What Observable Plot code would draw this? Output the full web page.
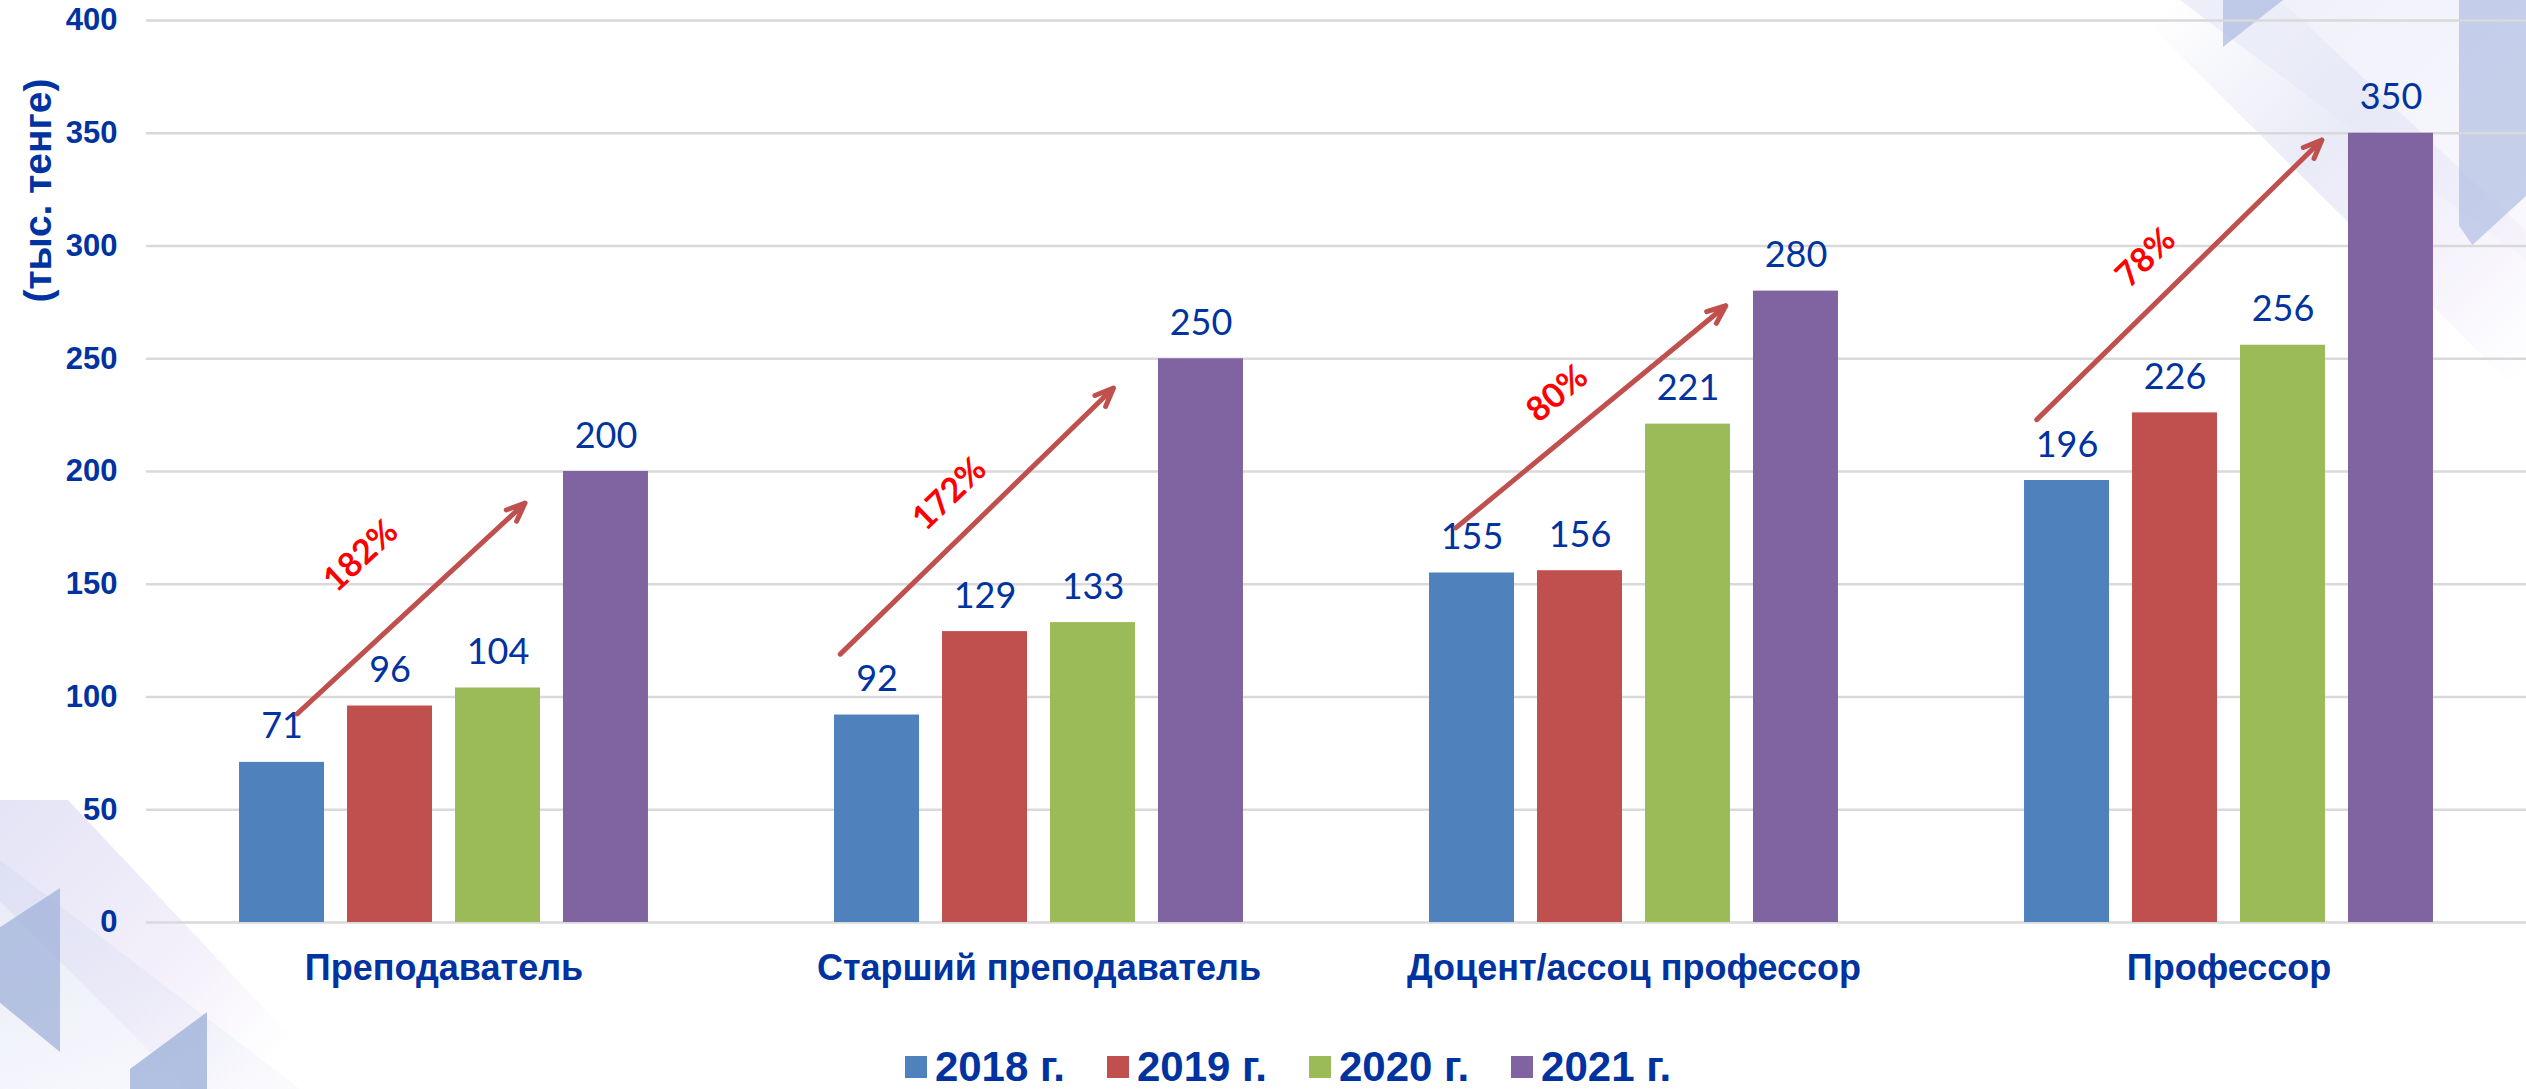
<!DOCTYPE html>
<html>
<head>
<meta charset="utf-8">
<script src="https://cdn.jsdelivr.net/npm/d3@7"></script>
<script src="https://cdn.jsdelivr.net/npm/@observablehq/plot@0.6"></script>
<style>
  html, body { margin: 0; padding: 0; background: #ffffff; }
  #wrap { position: relative; width: 2526px; height: 1089px; overflow: hidden; background: #ffffff; }
  #chart { position: relative; z-index: 1; }
  #legend {
    position: relative; z-index: 1;
    display: flex; justify-content: center; align-items: center;
    height: 59px; padding-left: 50px; padding-top: 14px; box-sizing: border-box;
    font-family: "Liberation Sans", Arial, sans-serif; font-weight: bold;
    font-size: 42px; line-height: 42px; color: #0033a0; gap: 42px;
  }
  .item { display: flex; align-items: center; gap: 8px; }
  .sw { width: 22px; height: 22px; display: inline-block; }
  /* decorative slide background */
  .deco { position: absolute; z-index: 0; pointer-events: none; }
  .bl-band { left: 0; top: 800px; width: 340px; height: 289px;
    background: linear-gradient(135deg, rgba(205,205,238,0.55), rgba(232,222,245,0.45) 55%, rgba(255,255,255,0) 85%);
    clip-path: polygon(0 0, 20% 0, 100% 100%, 55% 100%, 0 35%); }
  .bl-band2 { left: 0; top: 860px; width: 300px; height: 229px;
    background: linear-gradient(160deg, rgba(215,220,242,0.6), rgba(240,240,250,0.3));
    clip-path: polygon(0 0, 100% 100%, 0 100%); }
  .bl-p1 { left: 0; top: 888px; width: 60px; height: 164px; background: rgba(160,178,218,0.75);
    clip-path: polygon(0 24%, 100% 0, 100% 100%, 0 70%); }
  .bl-p2 { left: 130px; top: 1012px; width: 77px; height: 77px; background: rgba(160,178,218,0.8);
    clip-path: polygon(0 74%, 100% 0, 100% 100%, 0 100%); }
  .tr-band { left: 2080px; top: 0; width: 446px; height: 420px;
    background: linear-gradient(135deg, rgba(255,255,255,0) 10%, rgba(215,218,240,0.55) 45%, rgba(232,226,246,0.45) 70%, rgba(255,255,255,0) 95%);
    clip-path: polygon(10% 0, 45% 0, 100% 55%, 100% 95%); }
  .tr-band2 { left: 2180px; top: 0; width: 346px; height: 260px;
    background: linear-gradient(135deg, rgba(225,228,245,0.6), rgba(240,236,250,0.35));
    clip-path: polygon(0 0, 100% 0, 100% 100%); }
  .tr-p1 { left: 2223px; top: 0; width: 60px; height: 47px; background: rgba(175,190,226,0.75);
    clip-path: polygon(0 0, 100% 0, 0 100%); }
  .tr-p2 { left: 2459px; top: 0; width: 67px; height: 245px; background: rgba(170,186,224,0.65);
    clip-path: polygon(0 0, 100% 0, 100% 80%, 20% 100%, 0 92%); }
</style>
</head>
<body>
<div id="wrap">
  <div class="deco bl-band"></div>
  <div class="deco bl-band2"></div>
  <div class="deco bl-p1"></div>
  <div class="deco bl-p2"></div>
  <div class="deco tr-band"></div>
  <div class="deco tr-band2"></div>
  <div class="deco tr-p1"></div>
  <div class="deco tr-p2"></div>
  <div id="chart"></div>
  <div id="legend"></div>
</div>
<script>
// ---- data ----
const categories = ["Преподаватель", "Старший преподаватель", "Доцент/ассоц профессор", "Профессор"];
const years = [2018, 2019, 2020, 2021];
const yearLabels = ["2018 г.", "2019 г.", "2020 г.", "2021 г."];
const values2018 = [71, 92, 155, 196];
const values2019 = [96, 129, 156, 226];
const values2020 = [104, 133, 221, 256];
const values2021 = [200, 250, 280, 350];
const colors = ["#4f81bd", "#c0504d", "#9bbb59", "#8064a2"];
const yTicks = [0, 50, 100, 150, 200, 250, 300, 350, 400];
const yLabel = "(тыс. тенге)";

// growth arrows (annotation, in data coordinates: year position & value)
const arrowCats = categories;
const arrowX1 = [2018.64, 2018.16, 2018.35, 2018.22];
const arrowY1 = [92.5, 119, 175, 223];
const arrowX2 = [2020.75, 2020.69, 2020.85, 2020.86];
const arrowY2 = [186, 237, 273.5, 347];
const pctLabels = ["182%", "172%", "80%", "78%"];
const pctX = [2019.23, 2019.17, 2019.29, 2019.23];
const pctY = [162.6, 190, 234.5, 294.8];
const pctAngle = [-43, -44, -40, -44];

// ---- build tables ----
const seriesValues = [values2018, values2019, values2020, values2021];
const bars = [];
years.forEach((yr, j) => categories.forEach((c, i) => bars.push({category: c, year: yr, value: seriesValues[j][i]})));
const arrows = arrowCats.map((c, i) => ({category: c, x1: arrowX1[i], y1: arrowY1[i], x2: arrowX2[i], y2: arrowY2[i]}));
const pcts = arrowCats.map((c, i) => ({category: c, x: pctX[i], y: pctY[i], label: pctLabels[i], angle: pctAngle[i]}));

const blue = "#0033a0";

const chart = Plot.plot({
  width: 2526,
  height: 1030,
  marginTop: 20,
  marginBottom: 108,
  marginLeft: 146,
  marginRight: 0,
  style: {fontFamily: "'Liberation Sans', Arial, sans-serif", background: "transparent", overflow: "visible"},
  fx: {domain: categories, padding: 0, label: null},
  x: {domain: [2017.245, 2022.755], axis: null},
  y: {domain: [0, 400], ticks: yTicks, label: null},
  color: {type: "ordinal", domain: years, range: colors},
  marks: [
    Plot.gridY(yTicks, {stroke: "#d9d9d9", strokeOpacity: 1, strokeWidth: 2.5}),
    Plot.axisY(yTicks, {tickSize: 0, tickPadding: 29, fontSize: 31, fontWeight: "bold", fill: blue, label: null}),
    Plot.axisFx({anchor: "bottom", tickSize: 0, tickPadding: 32, fontSize: 36, fontWeight: "bold", fill: blue, label: null}),
    Plot.rectY(bars, {fx: "category", x: "year", interval: 1, y: "value", fill: "year", insetLeft: 11.5, insetRight: 11.5}),
    Plot.text(bars, {fx: "category", x: d => d.year + 0.5, y: "value", text: d => String(d.value), dy: -24, lineAnchor: "bottom", fontSize: 36, fontFamily: "Lato", fill: blue}),
    Plot.arrow(arrows, {fx: "category", x1: "x1", y1: "y1", x2: "x2", y2: "y2", stroke: "#c0504d", strokeWidth: 5, headLength: 6, headAngle: 45, strokeLinejoin: "miter"}),
    Plot.text(pcts, {fx: "category", x: "x", y: "y", text: "label", rotate: "angle", fill: "#ff0000", fontWeight: "bold", fontSize: 34, fontFamily: "Lato"}),
    Plot.text([yLabel], {frameAnchor: "top-left", facetAnchor: "left", dx: -108, dy: 170, rotate: -90, textAnchor: "middle", lineAnchor: "middle", fontSize: 39, fontWeight: "bold", fill: blue})
  ]
});
document.getElementById("chart").appendChild(chart);

// legend
const legend = document.getElementById("legend");
years.forEach((yr, i) => {
  const it = document.createElement("div");
  it.className = "item";
  const sw = document.createElement("span");
  sw.className = "sw";
  sw.style.background = colors[i];
  const t = document.createElement("span");
  t.textContent = yearLabels[i];
  it.appendChild(sw); it.appendChild(t);
  legend.appendChild(it);
});
</script>
</body>
</html>
